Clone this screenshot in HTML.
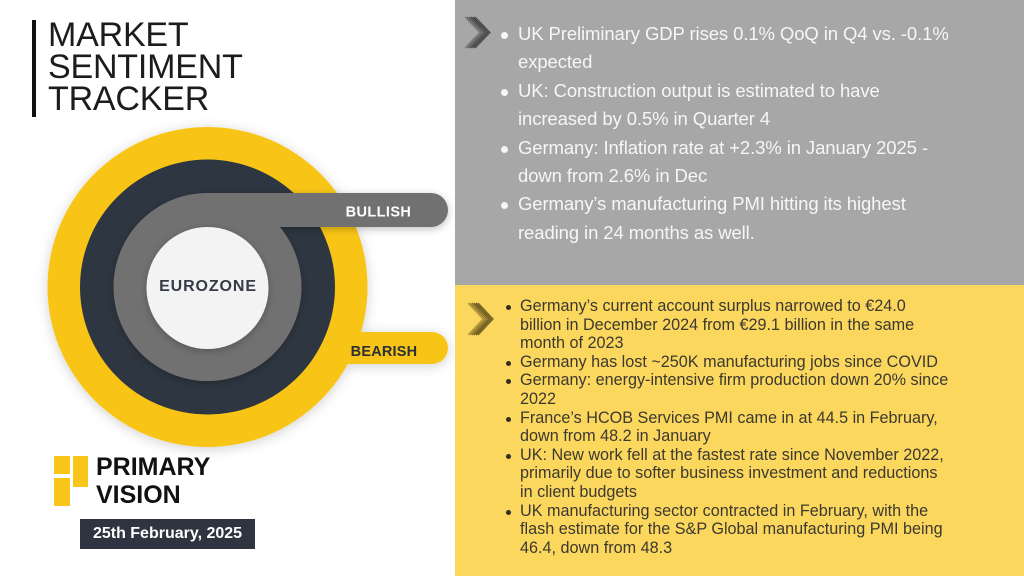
<!DOCTYPE html>
<html>
<head>
<meta charset="utf-8">
<style>
html,body{margin:0;padding:0;}
body{width:1024px;height:576px;position:relative;overflow:hidden;background:#ffffff;font-family:"Liberation Sans","DejaVu Sans",sans-serif;}
.abs{position:absolute;}
.title{left:48px;top:19px;font-size:34px;line-height:32px;color:#1c1c1c;font-weight:400;letter-spacing:-0.2px;white-space:nowrap;}
.tbar{left:32px;top:20px;width:4px;height:97px;background:#111;}
.gray{left:455px;top:0;width:569px;height:285px;background:#a7a7a7;}
.yel{left:455px;top:285px;width:569px;height:291px;background:#fcd75e;}
.top-items{left:518px;top:20px;font-size:18.5px;line-height:28.4px;color:#f6f6f6;white-space:nowrap;letter-spacing:-0.1px;}
.top-items .it{position:relative;}
.top-items .it::before{content:"";position:absolute;left:-17px;top:12px;width:7px;height:7px;border-radius:50%;background:#f6f6f6;}
.bot-items{left:520px;top:297px;font-size:16.2px;line-height:18.6px;color:#3b3930;white-space:nowrap;}
.bot-items .it{position:relative;}
.bot-items .it::before{content:"";position:absolute;left:-14.5px;top:8px;width:5px;height:5px;border-radius:50%;background:#2e2d28;}
.logo{font-weight:700;font-size:25px;line-height:28px;color:#111;left:96px;top:453px;white-space:nowrap;}
.date{left:80px;top:519px;width:175px;height:30px;background:#2e3540;color:#fff;font-weight:700;font-size:16px;line-height:30px;text-align:center;white-space:nowrap;}
</style>
</head>
<body>

<div class="abs tbar"></div>
<div class="abs title">MARKET<br>SENTIMENT<br>TRACKER</div>

<svg class="abs" style="left:0;top:0" width="455" height="576" viewBox="0 0 455 576">
  <defs>
    <filter id="sh" x="-20%" y="-20%" width="140%" height="140%">
      <feDropShadow dx="0" dy="2" stdDeviation="6" flood-color="#000" flood-opacity="0.18"/>
    </filter>
    <filter id="sh2" x="-30%" y="-30%" width="160%" height="160%">
      <feDropShadow dx="0" dy="2" stdDeviation="4" flood-color="#000" flood-opacity="0.25"/>
    </filter>
  </defs>
  <!-- outer yellow ring + bearish bar -->
  <g filter="url(#sh)">
    <circle cx="207.5" cy="287" r="160" fill="#f8c518"/>
    <path d="M207 332 H432 A16 16 0 0 1 432 364 H207 Z" fill="#f8c518"/>
  </g>
  <!-- dark ring -->
  <circle cx="207.5" cy="287" r="127.5" fill="#2e3641"/>
  <!-- gray ring + bullish bar -->
  <g filter="url(#sh2)">
    <circle cx="207.5" cy="287" r="94" fill="#717171"/>
    <path d="M207 193 H431 A17 17 0 0 1 431 227 H207 Z" fill="#717171"/>
  </g>
  <!-- inner white circle -->
  <circle cx="207.5" cy="288" r="61" fill="#f3f3f3" filter="url(#sh2)"/>
  <text x="208" y="291" text-anchor="middle" font-family="Liberation Sans, sans-serif" font-weight="700" font-size="16" letter-spacing="0.9" fill="#343b45">EUROZONE</text>
  <text x="378.5" y="216.5" text-anchor="middle" font-family="Liberation Sans, sans-serif" font-weight="700" font-size="14.5" letter-spacing="0.4" fill="#ffffff">BULLISH</text>
  <text x="384" y="356" text-anchor="middle" font-family="Liberation Sans, sans-serif" font-weight="700" font-size="14.5" letter-spacing="0.2" fill="#2b2f36">BEARISH</text>
  <!-- logo blocks -->
  <rect x="54" y="456" width="16" height="18" fill="#f8c518"/>
  <rect x="73" y="456" width="15" height="31" fill="#f8c518"/>
  <rect x="54" y="478" width="16" height="28" fill="#f8c518"/>
</svg>

<div class="abs logo">PRIMARY<br>VISION</div>
<div class="abs date">25th February, 2025</div>

<div class="abs gray"></div>
<div class="abs yel"></div>

<svg class="abs" style="left:455px;top:0" width="569" height="576" viewBox="455 0 569 576">
  <g fill="none" stroke-width="1.3">
    <polyline points="465,17 480,32.5 465,48" stroke="#4a4a4a" opacity="0.5"/>
    <polyline points="467,17 482,32.5 467,48" stroke="#404040" opacity="0.6"/>
    <polyline points="469,17 484,32.5 469,48" stroke="#3a3a3a" opacity="0.7"/>
    <polyline points="471,17 486,32.5 471,48" stroke="#333" opacity="0.8"/>
    <polyline points="473,17 488,32.5 473,48" stroke="#333" opacity="0.85"/>
    <polyline points="475,17 490,32.5 475,48" stroke="#3a3a3a" opacity="0.8"/>
  </g>
  <g fill="none" stroke-width="1.3">
    <polyline points="468,303 483,319 468,335" stroke="#6a5a1e" opacity="0.5"/>
    <polyline points="470,303 485,319 470,335" stroke="#5e4f18" opacity="0.6"/>
    <polyline points="472,303 487,319 472,335" stroke="#554715" opacity="0.7"/>
    <polyline points="474,303 489,319 474,335" stroke="#4d4012" opacity="0.8"/>
    <polyline points="476,303 491,319 476,335" stroke="#4d4012" opacity="0.85"/>
    <polyline points="478,303 493,319 478,335" stroke="#554715" opacity="0.8"/>
  </g>
</svg>

<div class="abs top-items">
  <div class="it">UK Preliminary GDP rises 0.1% QoQ in Q4 vs. -0.1%<br>expected</div>
  <div class="it">UK: Construction output is estimated to have<br>increased by 0.5% in Quarter 4</div>
  <div class="it">Germany: Inflation rate at +2.3% in January 2025 -<br>down from 2.6% in Dec</div>
  <div class="it">Germany’s manufacturing PMI hitting its highest<br>reading in 24 months as well.</div>
</div>

<div class="abs bot-items">
  <div class="it">Germany’s current account surplus narrowed to €24.0<br>billion in December 2024 from €29.1 billion in the same<br>month of 2023</div>
  <div class="it">Germany has lost ~250K manufacturing jobs since COVID</div>
  <div class="it">Germany: energy-intensive firm production down 20% since<br>2022</div>
  <div class="it">France’s HCOB Services PMI came in at 44.5 in February,<br>down from 48.2 in January</div>
  <div class="it">UK: New work fell at the fastest rate since November 2022,<br>primarily due to softer business investment and reductions<br>in client budgets</div>
  <div class="it">UK manufacturing sector contracted in February, with the<br>flash estimate for the S&amp;P Global manufacturing PMI being<br>46.4, down from 48.3</div>
</div>

</body>
</html>
